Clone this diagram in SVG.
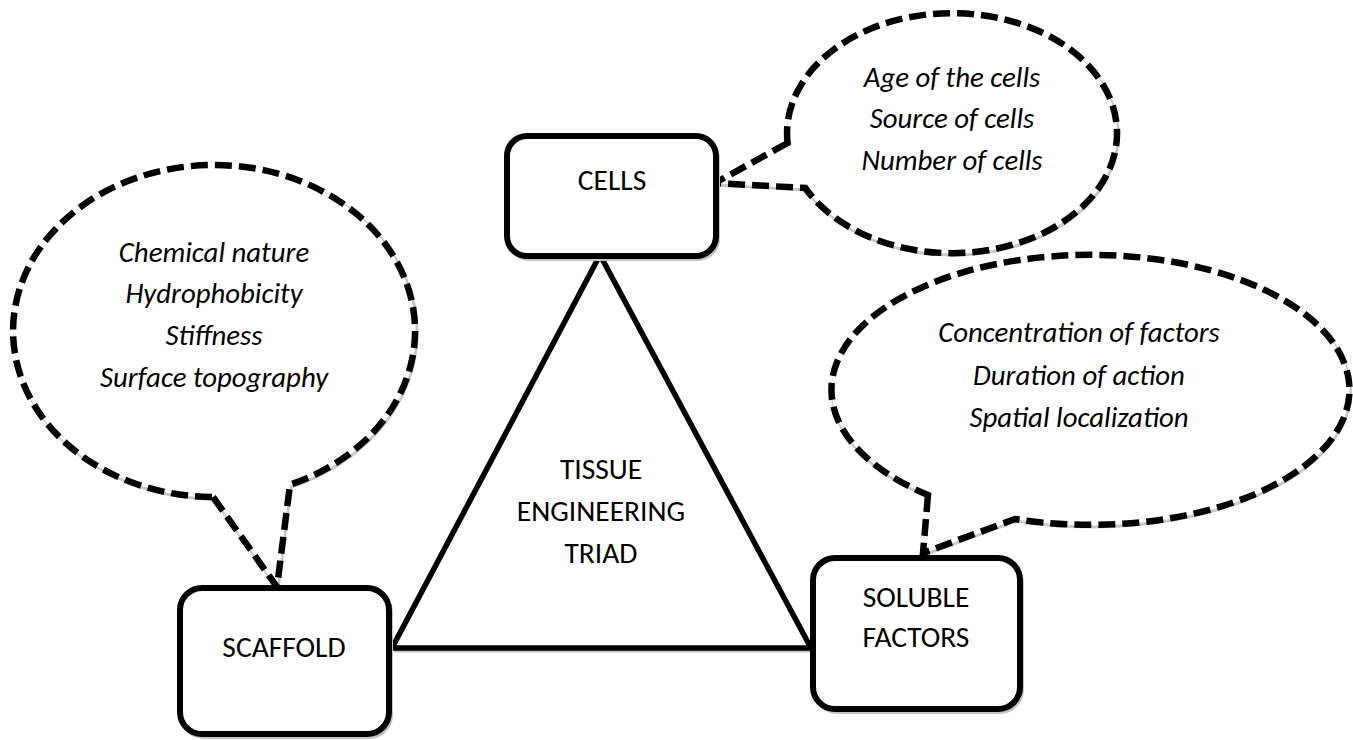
<svg xmlns="http://www.w3.org/2000/svg" width="1353" height="740" viewBox="0 0 1353 740">
<style>
.bg{fill:#ffffff}
.box{fill:#ffffff;stroke:#000;stroke-width:6}
.boxsh{fill:none;stroke:#c4c4c4;stroke-width:4}
.tri{fill:none;stroke:#000;stroke-width:5.5;stroke-linejoin:miter}
.trish{fill:none;stroke:#c4c4c4;stroke-width:3}
.call{fill:#ffffff;stroke:#000;stroke-width:6.5;stroke-dasharray:17 7;stroke-linejoin:miter}
.callsh{fill:none;stroke:#c8c8c8;stroke-width:3}
.lbl{font-family:Carlito,Lato,"Noto Sans",sans-serif;font-size:29.5px;fill:#000;text-anchor:middle}
.it{font-family:Carlito,Lato,"Noto Sans",sans-serif;font-size:28.8px;font-style:italic;fill:#000;text-anchor:middle}
</style>
<rect class="bg" x="0" y="0" width="1353" height="740"/>
<g id="connectors">
  <path class="trish" d="M 394 651 L 812 651"/>
  <path class="tri" d="M 600 255 L 392 648 L 811 648 Z"/>
</g>
<g id="callout-cells">
  <path class="callsh" d="M 788.6 145 L 716 185 L 806.3 190 A 165 120 0 1 0 788.6 145 Z"/>
  <path class="call" d="M 787.6 143 L 715 183 L 805.3 188 A 165 120 0 1 0 787.6 143 Z"/>
  <text class="it" x="952" y="87">Age of the cells</text>
  <text class="it" x="952" y="128">Source of cells</text>
  <text class="it" x="952" y="170">Number of cells</text>
</g>
<g id="callout-scaffold">
  <path class="callsh" d="M 214 499 L 278 589 L 291 487 A 201 166 0 1 0 214 499 Z"/>
  <path class="call" d="M 213 497 L 277 587 L 290 484.7 A 201 166 0 1 0 213 497 Z"/>
  <text class="it" x="214" y="262">Chemical nature</text>
  <text class="it" x="214" y="303">Hydrophobicity</text>
  <text class="it" x="214" y="345">Stiffness</text>
  <text class="it" x="214" y="387">Surface topography</text>
</g>
<g id="callout-soluble">
  <path class="callsh" d="M 929 497 L 924 555 L 1016 521 A 259 135 0 1 0 929 497 Z"/>
  <path class="call" d="M 928 495 L 923 553 L 1015 519 A 259 135 0 1 0 928 495 Z"/>
  <text class="it" x="1079" y="342">Concentration of factors</text>
  <text class="it" x="1079" y="385">Duration of action</text>
  <text class="it" x="1079" y="427">Spatial localization</text>
</g>
<g id="node-cells">
  <rect class="boxsh" x="509" y="139" width="209" height="120" rx="20"/>
  <rect class="box" x="507" y="136" width="209" height="120" rx="20"/>
  <text class="lbl" x="612" y="190">CELLS</text>
</g>
<g id="node-scaffold">
  <rect class="boxsh" x="182" y="591" width="209" height="146" rx="22"/>
  <rect class="box" x="180" y="588" width="209" height="146" rx="22"/>
  <text class="lbl" x="284" y="657">SCAFFOLD</text>
</g>
<g id="node-soluble">
  <rect class="boxsh" x="815" y="561" width="207" height="151" rx="22"/>
  <rect class="box" x="813" y="558" width="207" height="151" rx="22"/>
  <text class="lbl" x="916" y="607">SOLUBLE</text>
  <text class="lbl" x="916" y="647">FACTORS</text>
</g>
<g id="node-triad">
  <text class="lbl" x="601" y="479">TISSUE</text>
  <text class="lbl" x="601" y="521">ENGINEERING</text>
  <text class="lbl" x="601" y="563">TRIAD</text>
</g>
</svg>
